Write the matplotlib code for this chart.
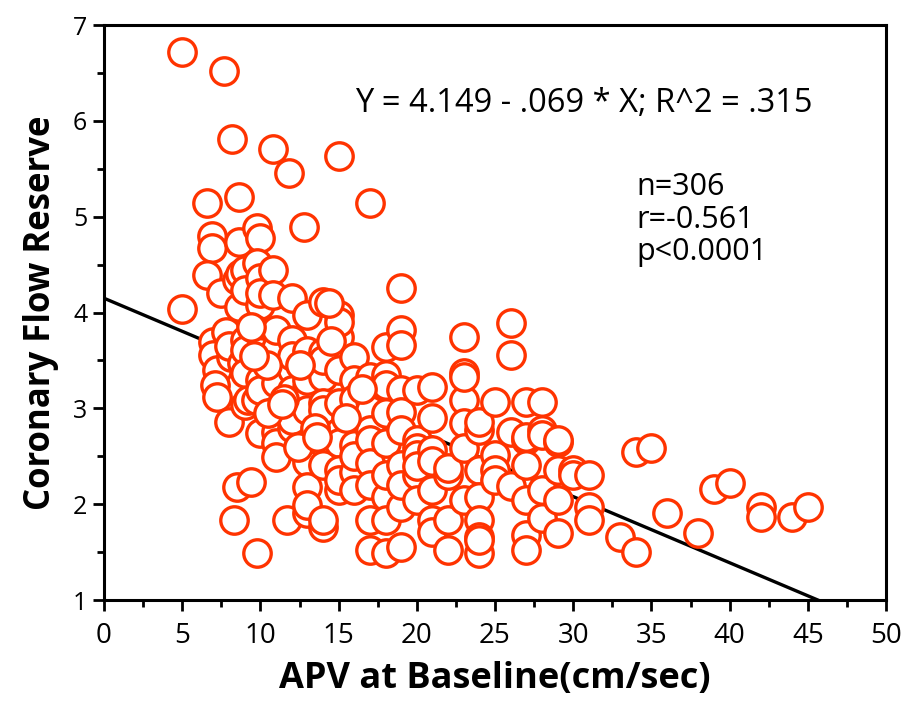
import matplotlib
matplotlib.use("Agg")
import matplotlib.pyplot as plt
import numpy as np
from matplotlib.ticker import MultipleLocator

# ---- data (APV at baseline, CFR) ----
apv = [
    5, 5,
    6.6, 6.9, 6.9, 6.6, 7.0, 7.0, 7.2, 7.1, 7.2,
    7.7, 7.5,
    8.2, 7.8, 8.1, 8.0, 8.0,
    8.6, 8.6, 8.5, 8.6, 8.5, 8.3, 8.8, 8.7,
    9, 9, 9, 9, 9, 9, 9.4, 9.2,
    9.8, 10, 9.8, 10, 10, 9.7, 10, 10, 9.7, 10, 9.8, 10, 10,
    10.8, 10.8, 10.8, 11, 11, 11, 11, 11, 11, 11, 11, 11,
    11.8, 12, 12, 12, 12, 12, 12, 11.7, 12,
    12.8, 13, 13, 13, 13, 13, 13, 13, 13, 13, 13,
    14, 14, 14, 14, 14, 14, 14, 14, 14, 14,
    15, 15, 15, 15, 15, 15, 15, 15, 15, 15, 15,
    16, 16, 16, 16, 16, 16, 16, 16,
    17, 17, 17, 17, 17, 17, 17, 17, 17, 17,
    18, 18, 18, 18, 18, 18, 18, 18, 18,
    19, 19, 19, 19, 19, 19, 19, 19, 19, 19,
    20, 20, 20, 20, 20, 20, 20,
    21, 21, 21, 21, 21, 21, 21,
    22, 22, 22, 22,
    23, 23, 23, 23, 23, 23, 23,
    24, 24, 24, 24, 24, 24, 24, 24,
    25, 25, 25, 25,
    26, 26, 26, 26,
    27, 27, 27, 27, 27, 27, 27,
    28, 28, 28, 28, 28,
    29, 29, 29, 29, 29,
    30, 30,
    31, 31, 31,
    33, 34, 34, 35, 36, 38, 39, 40, 42, 42, 44, 45,
    14.4, 9.4, 10.4, 11.5, 12.5, 13.5, 10.5, 12.4, 15.5, 16.5, 14.5, 9.6, 11.4, 13.6,
]
cfr = [
    6.72, 4.04,
    5.14, 4.80, 4.67, 4.39, 3.69, 3.56, 3.40, 3.24, 3.12,
    6.52, 4.20,
    5.81, 3.80, 3.54, 2.86, 3.65,
    5.21, 4.74, 4.34, 4.06, 2.18, 1.83, 3.47, 4.40,
    4.44, 4.23, 3.71, 3.61, 3.37, 3.04, 2.23, 3.09,
    4.88, 4.78, 4.52, 4.36, 4.08, 3.82, 3.59, 3.30, 3.09, 2.74, 1.49, 3.19, 4.20,
    5.71, 4.44, 4.18, 3.63, 3.40, 3.26, 2.90, 2.75, 2.64, 2.49, 2.98, 3.82,
    5.46, 4.15, 3.71, 3.40, 3.19, 2.80, 2.88, 1.83, 3.55,
    4.89, 3.97, 3.50, 3.21, 2.98, 2.44, 2.18, 1.91, 1.99, 3.30, 3.60,
    4.11, 3.59, 3.33, 3.06, 2.64, 2.41, 1.76, 1.83, 2.98, 3.50,
    5.63, 3.97, 3.74, 3.40, 3.06, 2.75, 2.64, 2.36, 2.15, 2.25, 3.90,
    3.54, 3.30, 2.88, 2.62, 2.34, 2.15, 3.10, 2.50,
    5.14, 3.33, 3.09, 2.98, 2.77, 2.67, 2.43, 2.20, 1.83, 1.52,
    3.64, 3.35, 3.24, 2.95, 2.64, 2.08, 1.83, 1.49, 2.30,
    4.26, 3.82, 3.66, 3.19, 2.96, 2.77, 2.41, 1.97, 1.55, 2.20,
    3.19, 2.67, 2.59, 2.51, 2.30, 2.04, 2.40,
    3.22, 2.90, 2.57, 2.15, 1.83, 1.71, 2.45,
    2.30, 2.38, 1.52, 1.83,
    3.74, 3.37, 3.09, 2.85, 2.59, 2.04, 3.33,
    2.77, 2.36, 2.08, 1.83, 1.66, 1.49, 2.86, 1.63,
    3.07, 2.51, 2.36, 2.25,
    3.89, 3.56, 2.75, 2.19,
    3.07, 2.67, 2.41, 2.04, 1.68, 1.52, 2.70,
    3.07, 2.77, 2.15, 1.86, 2.72,
    2.65, 2.36, 2.04, 1.70, 2.67,
    2.36, 2.30,
    2.30, 1.97, 1.83,
    1.66, 2.54, 1.50, 2.59, 1.91, 1.70, 2.16, 2.22, 1.97, 1.87, 1.87, 1.97,
    4.10, 3.85, 3.45, 3.10, 3.45, 2.80, 2.95, 2.60, 2.90, 3.20, 3.70, 3.55, 3.05, 2.70,
]

intercept = 4.149
slope = -0.069

xticks = [0, 5, 10, 15, 20, 25, 30, 35, 40, 45, 50]
yticks = [1, 2, 3, 4, 5, 6, 7]
stats_lines = ['n=306', 'r=-0.561', 'p<0.0001']

plt.rcParams['font.family'] = ['Open Sans', 'DejaVu Sans']

fig = plt.figure(figsize=(9.15, 7.05), dpi=100)
ax = fig.add_axes([104/915, 105/705, 782/915, 575/705])

x_end = (1 - intercept) / slope
xl = np.array([0, x_end])
ax.plot(xl, intercept + slope * xl, color='black', lw=2.4, zorder=2)

ax.scatter(apv, cfr, s=390, facecolors='white', edgecolors='#FF3300',
           linewidths=2.4, zorder=3, clip_on=False)

ax.set_xlim(0, 50)
ax.set_ylim(1, 7)
ax.set_xticks(xticks)
ax.set_yticks(yticks)
ax.xaxis.set_minor_locator(MultipleLocator(2.5))
ax.yaxis.set_minor_locator(MultipleLocator(0.5))
ax.tick_params(which='major', direction='out', length=8, width=2)
ax.tick_params(which='minor', direction='out', length=5, width=2)
ax.tick_params(axis='x', labelsize=20, pad=8)
ax.tick_params(axis='y', labelsize=18, pad=4)
for sp in ax.spines.values():
    sp.set_linewidth(2.2)

ax.set_xlabel('APV at Baseline(cm/sec)', fontsize=26, fontweight='bold', labelpad=8)
ax.set_ylabel('Coronary Flow Reserve', fontsize=25, fontweight='bold', labelpad=10)

ax.text(0.321, 0.864, 'Y = 4.149 - .069 * X; R^2 = .315', transform=ax.transAxes,
        fontsize=23.5, ha='left', va='center')
for i, line in enumerate(stats_lines):
    ax.text(0.681, (600 - 187 - 32.5 * i) / 575, line, transform=ax.transAxes,
            fontsize=22, ha='left', va='center')

fig.savefig('out.png', dpi=100)
